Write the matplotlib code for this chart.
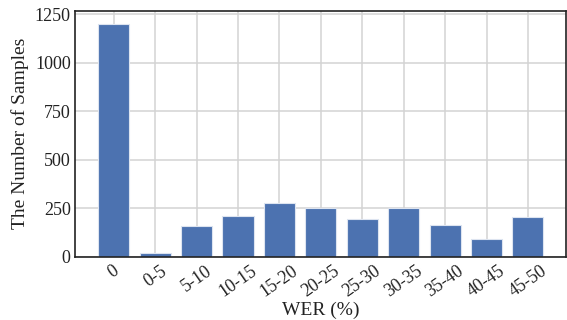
import matplotlib.pyplot as plt

plt.rcParams["font.family"] = ["Liberation Serif", "DejaVu Serif"]

bins = ["0", "0-5", "5-10", "10-15", "15-20", "20-25", "25-30",
        "30-35", "35-40", "40-45", "45-50"]
counts = [1200, 22, 162, 210, 277, 252, 195, 252, 163, 95, 205]
yticks = [0, 250, 500, 750, 1000, 1250]

fig = plt.figure(figsize=(5.67, 3.2), dpi=100)
ax = fig.add_axes([0.132, 0.197, 0.867, 0.770])

x = range(len(bins))
ax.bar(x, counts, width=0.75, color="#4c72b0", edgecolor="#dde4f0",
       linewidth=0.8, zorder=2)

ax.set_xlim(-0.94, 10.93)
ax.set_ylim(0, 1270)
ax.set_xticks(list(x))
ax.set_xticklabels(bins, rotation=35)
ax.set_yticks(yticks)
ax.tick_params(axis="both", length=0, labelsize=13, colors="#222222")
ax.tick_params(axis="x", pad=4)
ax.tick_params(axis="y", pad=3)

ax.grid(True, color="#d3d3d3", linewidth=1.1, zorder=0)
ax.set_axisbelow(True)
for s in ax.spines.values():
    s.set_color("#222222")
    s.set_linewidth(1.2)

ax.set_xlabel("WER (%)", fontsize=14, color="#222222", labelpad=1)
ax.set_ylabel("The Number of Samples", fontsize=14, color="#222222", labelpad=4)

fig.savefig("out.png", dpi=100)
